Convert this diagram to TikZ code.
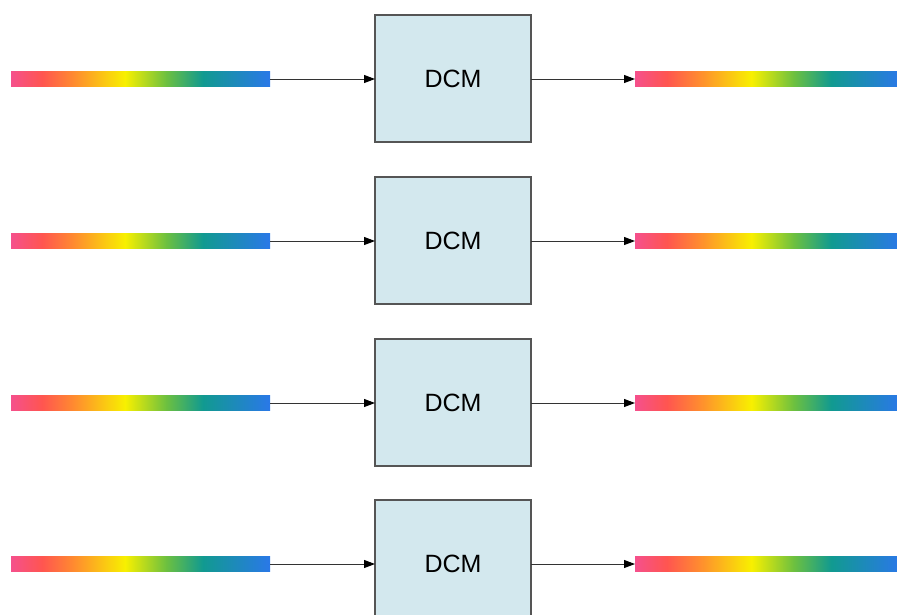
\documentclass[tikz,border=0pt]{standalone}
\usepackage{fontspec}
\setmainfont{Liberation Sans}
\usetikzlibrary{arrows.meta}
\definecolor{bpink}{HTML}{F5508C}
\definecolor{bred}{HTML}{FF5550}
\definecolor{borange}{HTML}{FF8A30}
\definecolor{byellow}{HTML}{F8F000}
\definecolor{bgreen}{HTML}{6CC040}
\definecolor{bteal}{HTML}{119A90}
\definecolor{bblue}{HTML}{2A78E8}
\definecolor{boxfill}{HTML}{D3E8EE}
\definecolor{boxline}{HTML}{555555}
\definecolor{arrline}{HTML}{333333}
\pgfdeclarehorizontalshading{rainbow}{100bp}{color(0bp)=(bpink); color(25bp)=(bpink); color(31bp)=(bred); color(37bp)=(borange); color(47bp)=(byellow); color(55bp)=(bgreen); color(62bp)=(bteal); color(75bp)=(bblue); color(100bp)=(bblue)}
\tikzset{
  fiber/.style={shading=rainbow, inner sep=0pt, outer sep=0pt, minimum height=15pt},
  dcmbox/.style={draw=boxline, fill=boxfill, line width=1.2pt, inner sep=0pt, outer sep=0pt,
    minimum width=156pt, minimum height=127pt, font=\fontsize{25}{28}\selectfont},
  conn/.style={draw=arrline, line width=1pt, -{Triangle[length=11pt,width=8pt,color=black]}}
}
\begin{document}
\begin{tikzpicture}[x=1pt,y=-1pt]
\useasboundingbox (0,0) rectangle (897,614);
\clip (0,0) rectangle (897,614);
\fill[white] (0,0) rectangle (897,614);
\foreach \i/\y in {1/79,2/241,3/403,4/564}{
  \node[fiber, minimum width=259pt] (in\i) at (140.5,\y) {};
  \node[dcmbox] (box\i) at (453,\y-0.5) {DCM};
  \node[fiber, minimum width=265pt] (out\i) at (767.5,\y) {};
  \draw[conn] (in\i.east) -- (box\i.west |- in\i.east);
  \draw[conn] (box\i.east |- out\i.west) -- (out\i.west);
}
\end{tikzpicture}
\end{document}
